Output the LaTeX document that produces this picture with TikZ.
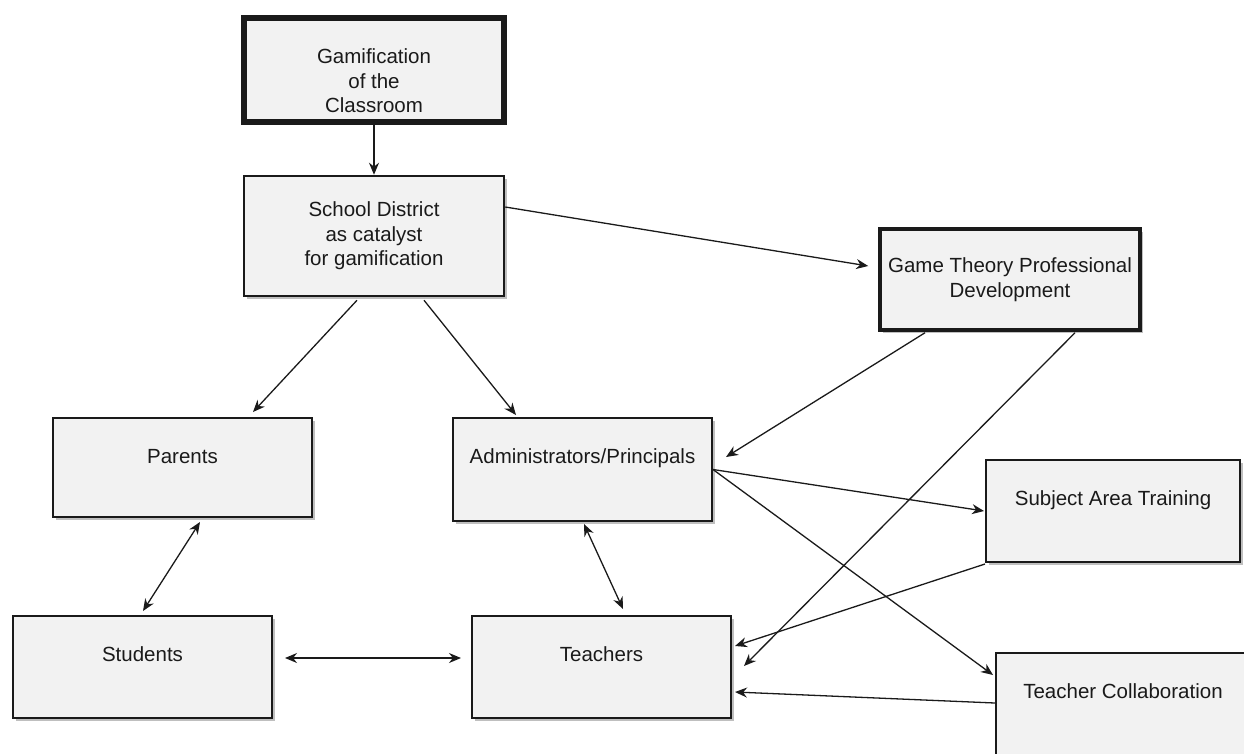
\documentclass[tikz,border=0pt]{standalone}
\usepackage{fontspec}
\setmainfont{Liberation Sans}
\usetikzlibrary{arrows.meta,shadows}
\definecolor{boxfill}{HTML}{F2F2F2}
\definecolor{ink}{HTML}{1A1A1A}
\begin{document}
\begin{tikzpicture}[x=1pt,y=-1pt,
  box/.style={draw=ink, fill=boxfill, rectangle, line width=2pt, inner sep=0pt,
    align=center, font=\fontsize{20.5}{24.5}\selectfont, text=ink,
    drop shadow={shadow xshift=3pt, shadow yshift=-3pt, fill=black!25, opacity=1}},
  oneline/.style={text height=0.75em, text depth=#1},
  oneline/.default=1.85em,
  arr/.style={draw=ink, line width=1.3pt, -{Stealth[length=12pt,width=10pt]}},
  biarr/.style={draw=ink, line width=1.3pt, {Stealth[length=12pt,width=10pt]}-{Stealth[length=12pt,width=10pt]}}]
\useasboundingbox (0,0) rectangle (1244,753);
\clip (0,0) rectangle (1244,753);

% boxes
\node[box, line width=6pt, minimum width=260pt, minimum height=104pt] (gam) at (374,70)
  {\rule{0pt}{37pt}Gamification\\of the\\Classroom};
\node[box, line width=2.5pt, minimum width=260pt, minimum height=120pt] (sd) at (374,236)
  {School District\\as catalyst\\for gamification};
\node[box, line width=3.5pt, minimum width=260pt, minimum height=101pt] (gt) at (1010,279.5)
  {Game Theory Professional\\Development};
\node[box, oneline=1.5em, minimum width=259pt, minimum height=99pt] (parents) at (182.5,467.5) {Parents};
\node[box, oneline=1.95em, minimum width=259pt, minimum height=103pt] (admin) at (582.5,469.5) {Administrators/Principals};
\node[box, oneline, minimum width=259pt, minimum height=102pt] (students) at (142.5,667) {Students};
\node[box, oneline, minimum width=259pt, minimum height=102pt] (teachers) at (601.5,667) {Teachers};
\node[box, oneline, minimum width=254pt, minimum height=102pt] (subject) at (1113,511) {Subject Area Training};
\node[box, oneline, minimum width=254pt, minimum height=102pt] (tc) at (1123,704) {Teacher Collaboration};

% connectors
\draw[arr] (gam) -- (sd);
\draw[arr] ([shift={(0,-29)}]sd.east) -- ([shift={(-10,-13.5)}]gt.west);
\draw[arr] ([shift={(-17,3)}]sd.south) -- ([shift={(70.5,-5)}]parents.north);
\draw[arr] ([shift={(50,3)}]sd.south) -- ([shift={(-66.5,-2)}]admin.north);
\draw[arr] ([shift={(-85,1)}]gt.south) -- ([shift={(13,-12.5)}]admin.east);
\draw[arr] ([shift={(65,1)}]gt.south) -- ([shift={(12,-1)}]teachers.east);
\draw[arr] (admin.east) -- ([shift={(-1,0)}]subject.west);
\draw[arr] (admin.east) -- ([shift={(-2,-29)}]tc.west);
\draw[arr] ([shift={(0,1)}]subject.south west) -- ([shift={(3,-21)}]teachers.east);
\draw[arr] ([shift={(0,-1)}]tc.west) -- ([shift={(3,25)}]teachers.east);
\draw[biarr] ([shift={(17.5,4)}]parents.south) -- ([shift={(0.5,-4)}]students.north);
\draw[biarr] ([shift={(1.5,2)}]admin.south) -- ([shift={(21.5,-6)}]teachers.north);
\draw[biarr] ([shift={(12,-9)}]students.east) -- ([shift={(-10,-9)}]teachers.west);
\end{tikzpicture}
\end{document}
